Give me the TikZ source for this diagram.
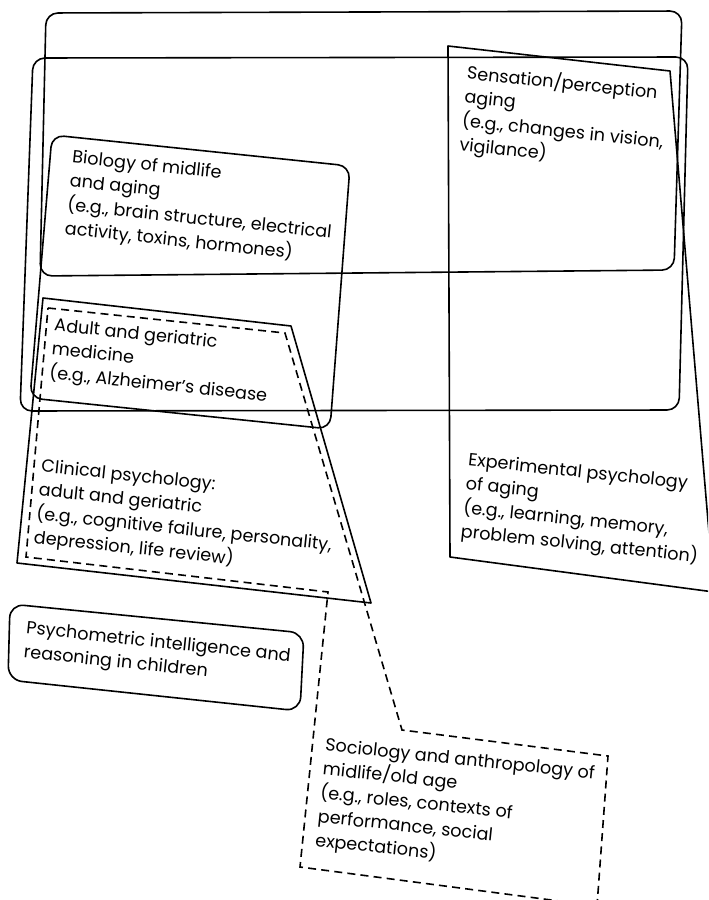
\documentclass[tikz,border=0pt]{standalone}
\usepackage{fontspec}
\setmainfont{Poppins}
\begin{document}
\begin{tikzpicture}[x=0.5pt,y=-0.5pt,
  outline/.style={draw=black,line width=0.8pt,line join=round},
  roundbox/.style={outline,rounded corners=6pt},
  dashbox/.style={draw=black,line width=0.8pt,dash pattern=on 4pt off 2.6pt},
  label/.style={anchor=north west,inner sep=0pt,align=left,rotate=-6,
    font=\fontsize{8.8}{12}\selectfont}]
\useasboundingbox (0,0) rectangle (708,900);
\clip (0,0) rectangle (708,900);

% upper band
\draw[roundbox] (46,13) -- (682,11) -- (674,270) -- (40,276) -- cycle;
% wide band
\draw[roundbox] (33,58) -- (688,57) -- (679,410) -- (20,411) -- cycle;
% biology and medicine region
\draw[roundbox] (52,135) -- (350,166) -- (330,429) -- (30,398) -- cycle;
% sensation / experimental region
\draw[outline] (448,46) -- (670,71) -- (714,592) -- (450,557) -- cycle;
% medicine / clinical region
\draw[outline] (43,298) -- (291,326) -- (371,603) -- (17,563) -- cycle;
% clinical / sociology region
\draw[dashbox] (48,308) -- (285,333) -- (402,730) -- (608,756) -- (597,906)
  -- (300,867) -- (328,592) -- (26,557) -- cycle;
% psychometric box
\draw[outline,rounded corners=7pt] (10,604) -- (304,633) -- (300,711) -- (8,680) -- cycle;

\node[label] (sens) at (468,62) {Sensation/perception\\aging\\(e.g., changes in vision,\\vigilance)};
\node[label] (bio) at (73,149) {Biology of midlife\\and aging\\(e.g., brain structure, electrical\\activity, toxins, hormones)};
\node[label] (med) at (55,317) {Adult and geriatric\\medicine\\(e.g., Alzheimer’s disease};
\node[label] (clin) at (42,458) {Clinical psychology:\\adult and geriatric\\(e.g., cognitive failure, personality,\\depression, life review)};
\node[label] (exp) at (469,452) {Experimental psychology\\of aging\\(e.g., learning, memory,\\problem solving, attention)};
\node[label] (psy) at (27,620) {Psychometric intelligence and\\reasoning in children};
\node[label] (soc) at (326,737) {Sociology and anthropology of\\midlife/old age\\(e.g., roles, contexts of\\performance, social\\expectations)};
\end{tikzpicture}
\end{document}
